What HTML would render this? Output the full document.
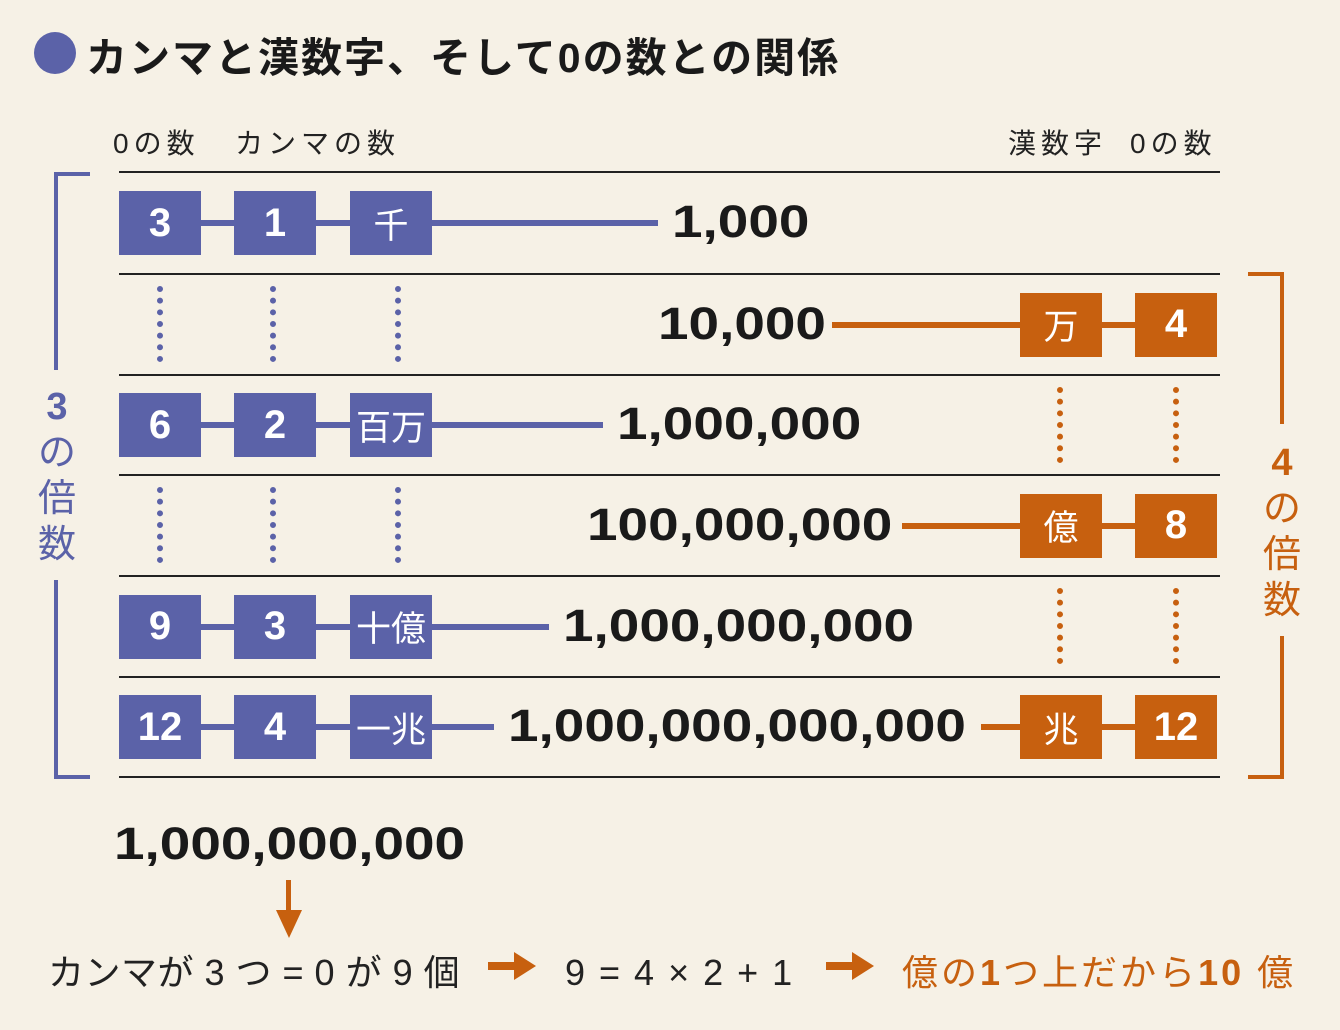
<!DOCTYPE html>
<html><head><meta charset="utf-8"><style>
body{margin:0;width:1340px;height:1030px;background:#f6f1e6;position:relative;overflow:hidden;font-family:"Liberation Sans","Noto Sans CJK JP",sans-serif;}
.a{position:absolute;}
.box{position:absolute;height:64px;width:82px;color:#fff;font-weight:bold;font-size:40px;display:flex;align-items:center;justify-content:center;}
.b{background:#5b62a8}.o{background:#c7600f}
.num{position:absolute;font-weight:bold;font-size:45px;color:#1a1a1a;line-height:64px;white-space:nowrap;transform:scaleX(1.22);transform-origin:left center;}
.hl{position:absolute;left:119px;width:1101px;height:2px;background:#222;}
.dot{position:absolute;width:0;border-left:6px dotted;}
.lbl{position:absolute;font-size:28px;color:#222;top:122px;letter-spacing:5px;}
.bt{position:absolute;top:950px;font-size:36px;line-height:46px;white-space:nowrap;letter-spacing:2px;}
.arr{position:absolute;top:962px;width:30px;height:8px;}
.arr::after{content:"";position:absolute;left:26px;top:-10px;border-top:14px solid transparent;border-bottom:14px solid transparent;border-left:22px solid #c7600f;}
</style></head><body>
<div class="a" style="left:34px;top:32px;width:42px;height:42px;border-radius:50%;background:#5b62a8"></div>
<div class="a" style="left:86px;top:24px;font-size:41px;font-weight:bold;color:#1a1a1a;letter-spacing:2px">カンマと漢数字、そして0の数との関係</div>
<div class="lbl" style="left:113px">0の数</div>
<div class="lbl" style="left:235px">カンマの数</div>
<div class="lbl" style="left:1008px">漢数字</div>
<div class="lbl" style="left:1130px">0の数</div>
<div class="a" style="left:54px;top:172px;width:36px;height:198px;border:4px solid #5b62a8;border-right:none;border-bottom:none;box-sizing:border-box"></div>
<div class="a" style="left:54px;top:580px;width:36px;height:199px;border:4px solid #5b62a8;border-right:none;border-top:none;box-sizing:border-box"></div>
<div class="a" style="left:36px;top:384px;width:42px;text-align:center;color:#5b62a8;font-size:38px;line-height:46px"><b>3</b><br>の<br>倍<br>数</div>
<div class="a" style="left:1248px;top:272px;width:36px;height:152px;border:4px solid #c7600f;border-left:none;border-bottom:none;box-sizing:border-box"></div>
<div class="a" style="left:1248px;top:636px;width:36px;height:143px;border:4px solid #c7600f;border-left:none;border-top:none;box-sizing:border-box"></div>
<div class="a" style="left:1261px;top:440px;width:42px;text-align:center;color:#c7600f;font-size:38px;line-height:46px"><b>4</b><br>の<br>倍<br>数</div>
<div class="num" style="left:114px;top:812px">1,000,000,000</div>
<div class="a" style="left:286px;top:880px;width:5px;height:32px;background:#c7600f"></div>
<div class="a" style="left:276px;top:910px;width:0;height:0;border-left:13px solid transparent;border-right:13px solid transparent;border-top:28px solid #c7600f"></div>
<div class="bt" style="left:48px;color:#222;letter-spacing:0.5px">カンマが 3 つ = 0 が 9 個</div>
<div class="arr" style="left:488px;background:#c7600f"></div>
<div class="bt" style="left:565px;color:#222;letter-spacing:2px">9 = 4 × 2 + 1</div>
<div class="arr" style="left:826px;background:#c7600f"></div>
<div class="bt" style="left:902px;color:#c7600f;letter-spacing:3px">億の<b>1</b>つ上だから<b>10</b> 億</div>
<script>
const lineY=[172,274,375,475,576,677,777];
const blueZeros=["3","6","9","12"];
const blueCommas=["1","2","3","4"];
const blueKanji=["千","百万","十億","一兆"];
const blueRows=[0,2,4,5];
const blueNums=["1,000","1,000,000","1,000,000,000","1,000,000,000,000"];
const blueNumX=[672,617,563,508];
const orangeRows=[1,3,5];
const orangeKanji=["万","億","兆"];
const orangeZeros=["4","8","12"];
const orangeNums=["10,000","100,000,000",""];
const orangeNumX=[658,587,0];
const orangeLineStart=[832,902,981];
const root=document.body;
function mk(cls,style,txt){const d=document.createElement('div');d.className=cls;d.style.cssText=style;if(txt!==undefined)d.textContent=txt;root.appendChild(d);return d;}
lineY.forEach((y,i)=>{const d=mk('hl','top:'+(y-1)+'px');

});
function cy(r){return (lineY[r]+lineY[r+1])/2;}
blueRows.forEach((r,i)=>{
  const c=cy(r);
  const ln=mk('a','left:160px;top:'+(c-3)+'px;height:6px;width:'+(blueNumX[i]-174)+'px;background:#5b62a8');
  
  
  [[119,blueZeros[i],'zero-count-box',false],[234,blueCommas[i],'comma-count-box',false],[350,blueKanji[i],'kanji-box',true]].forEach(([x,t,n,k])=>{
    const b=mk('box b','left:'+x+'px;top:'+(c-32)+'px;'+(k?'font-size:35px;font-weight:normal':''),t);
    
    
  });
  const n=mk('num','left:'+blueNumX[i]+'px;top:'+(c-33)+'px',blueNums[i]);
  
  
});
orangeRows.forEach((r,i)=>{
  const c=cy(r);
  const ln=mk('a','left:'+orangeLineStart[i]+'px;top:'+(c-3)+'px;height:6px;width:'+(1176-orangeLineStart[i])+'px;background:#c7600f');
  
  
  [[1020,orangeKanji[i],'kanji-unit-box',true],[1135,orangeZeros[i],'kanji-zero-box',false]].forEach(([x,t,n,k])=>{
    const b=mk('box o','left:'+x+'px;top:'+(c-32)+'px;'+(k?'font-size:35px;font-weight:normal':''),t);
    
    
  });
  if(orangeNums[i]){const n=mk('num','left:'+orangeNumX[i]+'px;top:'+(c-33)+'px',orangeNums[i]);
  
  }
});
[1,3].forEach(r=>{[160,273,398].forEach(x=>{
  const d=mk('dot','left:'+(x-3)+'px;top:'+(lineY[r]+12)+'px;height:76px;color:#5b62a8');
  
  });});
[2,4].forEach(r=>{[1060,1176].forEach(x=>{
  const d=mk('dot','left:'+(x-3)+'px;top:'+(lineY[r]+12)+'px;height:76px;color:#c7600f');
  
  });});
</script>
</body></html>
